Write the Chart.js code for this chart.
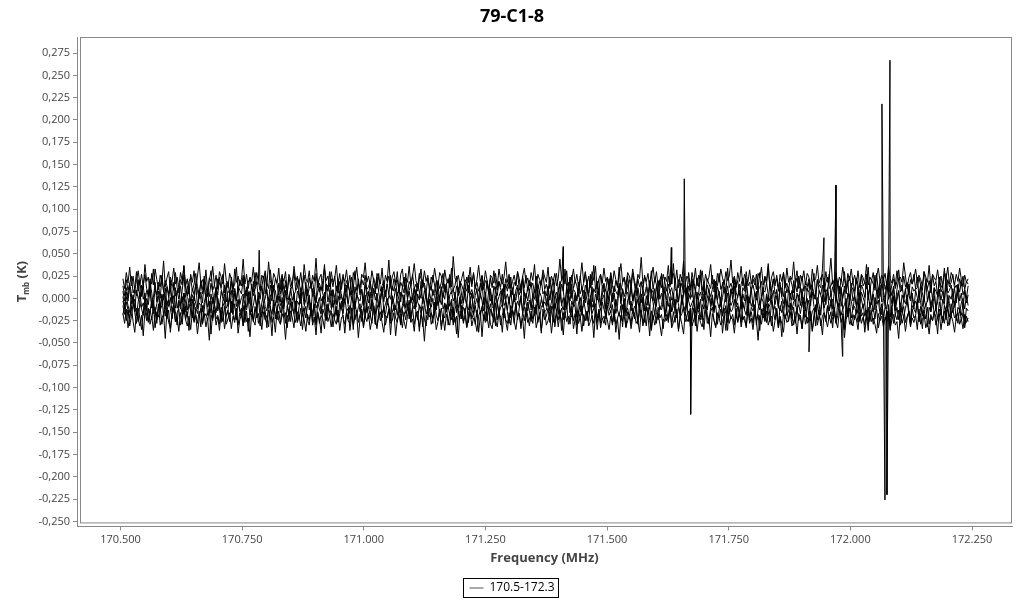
<!DOCTYPE html>
<html>
<head>
<meta charset="utf-8">
<title>79-C1-8</title>
<script src="https://cdn.jsdelivr.net/npm/chart.js@4.4.1/dist/chart.umd.min.js"></script>
<style>
  html, body { margin: 0; padding: 0; background: #fff; }
  #wrap { width: 1024px; height: 600px; }
</style>
</head>
<body>
<div id="wrap"><canvas id="spectrum" width="1024" height="600"></canvas></div>
<script>
// eight overlaid scans, values in mK, same channel grid
const scanA = [14,3,21,9,17,25,6,12,30,8,19,2,15,27,11,5,22,16,33,10,4,18,13,26,7,20,14,1,24,17,9,29,12,6,21,15,36,11,3,19,
  23,8,16,28,13,5,18,10,25,14,2,20,31,9,15,7,22,17,12,27,6,13,19,4,24,11,16,35,8,21,14,26,10,3,18,23,12,7,29,15,
  20,9,13,25,5,17,11,32,14,8,22,16,4,19,27,10,15,6,24,13,18,30,9,12,21,2,16,26,11,7,23,14,19,5,28,12,17,9,20,38,
  10,15,6,22,13,25,8,18,3,16,27,11,20,14,7,24,12,31,9,17,4,21,15,26,10,13,19,6,23,16,11,28,8,14,20,2,17,25,12,9,
  22,15,30,7,18,13,24,10,5,19,14,27,11,16,8,21,33,12,17,6,23,13,9,26,15,4,20,11,18,28,7,16,22,12,34,10,14,25,3,19,
  15,9,21,17,6,24,13,29,11,18,8,14,26,10,20,16,5,23,12,31,17,9,19,13,27,7,22,15,11,24,4,18,14,30,9,16,21,12,26,8,
  20,13,17,6,25,11,19,15,28,10,
  16,7,24,12,3,19,28,10,15,21,8,33,13,18,5,26,11,20,14,2,25,9,17,30,12,6,22,15,37,10,19,4,27,13,16,8,23,11,29,14,
  7,20,12,35,9,18,24,5,15,21,11,28,16,3,22,13,19,9,26,17,6,14,31,10,23,15,1,20,12,27,18,8,25,13,16,39,11,7,21,14,
  24,10,17,5,29,12,20,15,8,23,13,32,9,18,4,22,16,11,26,7,19,14,28,10,15,21,6,34,12,17,9,25,13,20,3,16,23,11,30,14,
  18,7,22,15,27,10,12,19,5,24,16,36,11,8,21,14,26,13,18,2,29,12,17,9,23,15,6,20,31,11,14,25,8,19,13,22,10,16,28,4,
  21,15,12,33,7,18,24,11,14,20,9,27,16,5,22,13,30,10,17,25,12,19,8,23,15,3,26,14,18,11,35,9,21,16,12,28,7,20,13,24,
  10,17,29,6,15,22,11,19,32,14,8,25,13,18,4,21,16,27,10,12,23,15,9,30,17,11,20,6,26,14,19,2,24,12,16,34,9,21,13,18,
  27,11,15,7,22,14,25,10,19,16];
const scanB = [8,-3,12,1,17,5,-6,10,3,21,-1,7,14,-4,9,2,19,6,-8,11,4,15,0,23,8,-2,13,5,10,-5,18,3,7,12,-7,9,26,1,14,6,
  -3,11,4,16,8,0,20,5,13,-1,9,2,17,7,-9,12,4,24,10,3,15,-4,8,6,19,1,11,-2,14,9,5,22,0,13,7,-6,16,3,10,18,
  -1,8,12,4,27,6,-3,15,2,11,9,-5,17,5,13,1,20,7,-2,10,14,4,8,25,0,12,6,-7,18,3,11,16,2,9,-4,21,7,13,5,-1,
  15,8,30,3,10,-6,14,6,19,2,-3,12,7,17,4,9,-8,13,1,22,6,10,-2,15,8,3,18,0,11,5,24,7,-5,12,9,2,16,4,-1,14,
  8,20,3,10,-4,13,6,28,1,9,15,-2,11,5,17,7,0,21,12,4,-6,10,14,3,8,19,6,-3,13,1,16,9,2,23,5,11,-1,14,7,18,
  3,-5,12,8,26,4,10,0,15,6,-2,17,9,13,1,20,5,11,-7,14,7,3,19,10,6,-1,16,8,22,2,12,-4,9,15,4,11,25,6,0,13,
  8,18,1,10,-3,14,7,21,5,9,
  3,14,-2,9,20,6,-5,11,1,16,8,-7,13,4,24,0,10,7,-3,18,5,12,-1,15,9,2,27,-4,11,6,19,3,-8,13,7,10,1,22,5,-2,
  14,8,4,17,-6,11,2,9,25,0,12,-3,7,15,5,-9,18,10,3,13,-1,20,6,9,-5,14,2,11,28,4,8,-2,16,7,12,0,23,5,-4,10,
  17,3,9,-7,14,6,1,19,11,-1,7,26,4,12,-3,15,8,2,10,21,0,13,6,-6,18,9,3,14,-2,11,5,24,7,1,16,-4,12,8,20,3,
  -5,10,15,6,2,13,29,-1,9,7,17,4,-3,11,22,5,8,-8,14,10,2,19,6,13,0,9,-2,16,7,25,11,3,-6,14,8,18,1,12,5,-1,
  21,9,4,15,-4,10,7,27,2,13,6,-3,17,8,11,0,14,5,20,-7,9,12,3,23,7,-2,15,10,1,18,4,13,-5,9,26,6,11,2,16,8,
  -1,19,5,12,3,14,-6,10,22,7,15,0,9,17,4,-3,13,8,11,24,2,16,6,-4,20,10,5,14,-1,12,8,3,18,7,13,-2,28,6,9,15,
  1,11,-5,16,7,19,4,10,0,14];
const scanC = [2,-9,7,-3,13,-6,4,-12,9,0,-5,15,-1,6,-14,3,10,-7,1,18,-4,8,-10,5,-2,12,-8,0,20,-6,3,-11,9,-1,14,-4,6,-15,2,11,
  -7,4,-3,16,-9,1,7,-5,22,-2,10,-13,5,-6,3,12,-1,-10,8,0,-4,17,-8,2,9,-12,6,-3,13,-7,1,5,-16,11,-2,8,-5,19,3,-9,
  7,-1,14,-6,0,10,-11,4,-3,15,-8,2,6,-4,24,-10,9,1,-7,12,-2,5,-13,8,3,-6,17,-1,10,-9,4,-15,11,0,-5,7,13,-3,2,-8,
  16,-4,6,-11,9,1,-7,21,-2,5,-10,12,3,-6,8,-1,14,-12,4,0,-3,10,-8,18,2,-5,7,-14,11,-2,6,-9,1,13,-4,9,-7,3,26,-6,
  0,11,-3,-12,7,4,-8,15,-1,8,-5,2,12,-10,5,-2,19,-6,9,1,-13,7,-4,10,3,-9,14,0,-7,6,-1,17,-11,4,8,-3,2,-16,12,5,
  -6,9,0,-8,15,-2,6,-12,3,11,-4,1,20,-7,7,-10,10,-3,4,-14,13,-5,2,8,-9,16,-1,5,-6,9,-11,3,-2,12,-5,0,23,-8,6,-3,
  10,-13,4,-1,14,-7,7,2,-10,8,
  -6,8,-2,14,-11,3,7,-4,19,-8,1,-13,10,4,-3,16,-9,6,-1,12,-15,2,9,-5,21,-7,0,13,-10,5,-2,11,-6,3,17,-12,8,-1,25,-4,
  6,-9,0,14,-3,10,-16,4,7,-7,18,-2,5,-11,12,1,-5,9,-14,3,-8,15,2,-3,11,-9,20,-1,6,-6,13,-12,4,8,-2,1,-17,10,-4,16,
  -7,3,12,-10,6,-1,22,-5,9,-13,2,7,-3,15,-8,0,11,-6,4,-11,19,-2,8,-9,1,13,-4,6,-15,10,-1,24,-7,3,9,-12,5,-3,17,-5,
  0,11,-10,7,-2,14,-8,2,12,-16,5,-4,18,-1,9,-7,3,-11,15,1,-6,8,-13,10,4,-2,20,-9,6,-3,13,-5,1,-14,11,7,-8,16,-1,4,
  -10,9,3,-4,23,-7,12,-2,5,-12,8,0,-6,14,-9,2,10,-15,6,-1,17,-3,4,-8,11,-11,7,1,-5,27,-2,13,-7,5,-13,9,0,15,-4,3,
  -9,19,-1,6,-6,12,-10,2,8,-16,4,-3,11,-7,16,-1,6,-12,9,1,-5,14,-9,3,21,-4,7,-8,0,12,-14,5,10,-2,8,-6,18,-10,3,-1,
  11,-7,2,15,-3,6,-11,9,-5,4];
const scanD = [-3,-12,2,-8,-16,4,-6,-1,-19,-4,7,-10,-5,-14,0,-7,10,-11,-2,-17,-6,3,-13,-8,5,-20,-3,-9,1,-15,-5,12,-11,-2,-7,-18,6,-4,-13,0,
  -9,-22,3,-6,-12,8,-1,-15,-5,4,-10,-3,-17,1,-8,9,-14,-6,-24,-2,5,-11,-7,0,-16,-4,11,-9,-1,-13,-19,2,-6,-10,7,-3,-15,-8,4,-12,
  -1,-21,-5,6,-9,-14,1,-7,14,-11,-4,-17,3,-8,-2,-12,8,-6,-18,0,-10,5,-15,-3,-7,2,-20,-9,-1,10,-13,-5,-26,4,-11,-6,1,-16,-3,7,
  -8,-14,-2,9,-10,-4,-19,3,-7,-12,0,-5,15,-9,-17,2,-6,-11,6,-3,-15,-8,1,-22,-4,8,-12,-1,-7,-18,5,-10,-3,12,-14,-6,0,-9,-20,3,
  -5,-13,7,-2,-16,-8,4,-11,-1,-23,2,-7,-12,10,-4,-9,-17,1,-6,6,-14,-3,-10,0,-19,5,-8,-2,13,-12,-6,-15,3,-9,-1,-21,7,-5,-11,2,
  -16,-4,9,-8,-13,-2,4,-18,-7,0,-10,6,-3,-14,1,-25,-5,8,-9,-12,3,-6,-17,-1,11,-8,-4,-13,2,-20,-7,5,-11,-3,-9,0,-16,7,-5,-14,
  -2,-10,4,-19,-6,9,-12,-1,-8,-4,
  -9,2,-14,-4,8,-11,-1,-18,5,-7,-13,0,-6,11,-16,-3,-9,4,-21,-5,1,-12,-8,7,-2,-15,3,-10,-4,-19,9,-6,-13,-1,4,-23,-7,2,-11,6,
  -3,-17,-8,13,-5,-12,0,-20,-2,3,-14,-6,7,-10,-1,-16,5,-4,-27,-8,1,-12,10,-5,-18,-2,3,-13,-7,8,-20,-3,-9,2,-15,6,-11,-1,-6,-22,
  4,-8,-14,12,-3,-10,-5,0,-17,7,-12,-1,-24,5,-7,-13,3,-9,-2,-16,9,-4,-11,1,-19,-6,6,-14,-1,-8,-3,14,-10,-5,-21,2,-7,-12,4,-15,
  0,-9,-2,-18,8,-6,-13,1,-4,-25,5,-11,-7,3,-16,-1,10,-9,-14,-3,-20,2,-6,-10,6,-13,-4,-1,-17,4,-8,11,-12,-5,0,-22,-3,7,-9,-15,
  1,-7,-19,4,-11,-2,8,-14,-6,-1,-16,3,-9,-4,13,-12,-7,0,-20,5,-3,-13,2,-8,-17,6,-1,-11,-5,-24,7,-10,-2,-15,1,-6,12,-9,-18,0,
  -4,-12,5,-21,-7,3,-14,-2,9,-10,-16,-1,-6,4,-13,-26,2,-8,-3,-11,8,-5,-18,0,-9,-2,6,-15,-7,3,-12,-4,10,-19,-1,-8,-14,4,-6,-22,
  1,-10,-3,7,-16,-5,0,-12,3,-8];
const scanE = [-8,-18,-4,-13,-22,-7,1,-15,-11,-26,-5,-12,-19,0,-9,-24,-14,-3,-17,-10,-28,-6,-13,3,-20,-8,-16,-2,-11,-23,-7,-15,-30,-4,-12,2,-18,-9,-21,-6,
  -14,-1,-25,-10,-17,-5,-8,-29,-13,4,-19,-11,-3,-22,-7,-16,0,-12,-27,-9,-4,-20,-14,6,-10,-18,-6,-24,-2,-15,-11,-31,-8,-13,-1,-19,-5,-26,-12,-16,
  3,-9,-21,-7,-14,-33,-4,-11,-18,-2,-23,-10,-6,-16,1,-13,-28,-8,-20,-5,-12,-17,-3,-25,-9,5,-15,-11,-22,-7,-1,-19,-14,-8,-30,-4,-12,-18,2,-10,
  -24,-6,-16,-13,-2,-21,-9,-27,-5,-11,-17,0,-14,-23,-8,-12,-35,-3,-19,-10,-6,-26,-13,4,-16,-9,-20,-4,-11,-29,-7,-15,-1,-22,-12,-18,-5,-10,-25,1,
  -14,-8,-19,-3,-28,-11,-6,-17,-13,-2,-21,-9,3,-15,-24,-7,-12,-32,-4,-18,-10,-1,-16,-22,-8,-13,2,-20,-11,-26,-5,-14,-9,-19,-3,-30,-12,-7,-17,0,
  -23,-10,-15,-6,-27,-2,-13,-18,-8,-21,-4,-16,-11,1,-25,-9,-14,-6,-20,-12,-31,-3,-17,-10,-7,-22,-1,-15,-28,-8,-13,-19,-5,-24,-11,3,-16,-9,-21,-4,
  -14,-26,-7,-12,-18,-2,-23,-10,-6,-15,
  -13,-3,-20,-9,-27,-6,-15,-1,-18,-11,-24,-7,-12,2,-16,-21,-5,-10,-30,-14,-8,-19,-2,-13,-25,-9,0,-17,-11,-6,-22,-14,-28,-4,-12,-19,3,-10,-16,-7,
  -26,-1,-13,-20,-8,-32,-5,-15,-11,-23,-3,-17,-9,-12,-29,-6,-21,1,-14,-10,-18,-7,-34,-11,-2,-16,-24,-9,-13,-4,-20,-12,-27,-5,-15,-8,-1,-22,-10,-17,
  4,-13,-19,-6,-26,-11,-14,-3,-31,-9,-16,-21,-7,-12,-2,-18,-25,-10,0,-14,-8,-29,-13,-5,-20,-11,-17,-36,-6,-15,-12,-1,-22,-9,-16,-27,-4,-13,-19,2,
  -24,-10,-14,-7,-30,-12,-3,-18,-11,-21,-6,-15,-26,-2,-13,-9,-20,-33,-8,-16,-11,1,-19,-14,-5,-23,-10,-28,-12,-7,-17,-4,-13,-21,-9,-2,-25,-15,-11,-31,
  -6,-18,-12,3,-16,-24,-8,-14,-1,-20,-10,-27,-5,-13,-19,-11,-35,-7,-15,-3,-22,-12,-9,-17,0,-26,-14,-6,-20,-13,-29,-4,-16,-11,-23,-8,-2,-18,-12,-25,
  -9,-15,-7,-30,-13,2,-19,-10,-24,-5,-14,-21,-11,-3,-17,-28,-8,-12,-16,-1,-26,-9,-20,-13,-6,-32,-10,-15,0,-18,-11,-23,-4,-14,-27,-8,-17,-12,-21,-6,
  -16,-3,-25,-10,-13,-19,-7,-29,-11,-14];
const scanF = [-18,-9,-25,-13,-31,-20,-6,-16,-28,-11,-22,-35,-14,-4,-19,-27,-12,-24,-8,-33,-15,-21,-10,-29,-17,-2,-23,-13,-38,-19,-7,-26,-16,-12,-30,-20,-9,-24,-15,-36,
  -11,-22,-5,-18,-28,-14,-32,-8,-21,-17,-25,-12,-40,-16,-6,-23,-19,-29,-10,-15,-34,-20,-13,-26,-3,-18,-24,-11,-30,-16,-21,-8,-27,-14,-37,-19,-12,-25,-9,-22,
  -17,-31,-15,-6,-23,-28,-13,-20,-42,-10,-18,-24,-14,-29,-7,-21,-16,-33,-12,-26,-4,-19,-27,-15,-22,-11,-35,-17,-9,-24,-30,-13,-20,-6,-28,-16,-23,-39,-12,-18,
  -25,-8,-21,-14,-32,-19,-10,-26,-17,-3,-22,-29,-15,-11,-36,-20,-7,-24,-13,-27,-18,-12,-31,-16,-5,-23,-19,-28,-9,-21,-34,-14,-25,-17,-10,-30,-20,-13,-41,-16,
  -8,-22,-27,-12,-19,-33,-15,-24,-6,-18,-26,-11,-29,-20,-14,-37,-17,-9,-23,-31,-13,-21,-16,-28,-4,-19,-25,-12,-35,-18,-22,-7,-30,-15,-24,-10,-27,-20,-44,-14,
  -17,-26,-11,-32,-19,-6,-23,-16,-29,-13,-38,-20,-9,-25,-15,-21,-33,-12,-18,-27,-5,-24,-14,-30,-19,-11,-26,-36,-16,-22,-13,-28,-8,-21,-17,-34,-15,-25,-10,-20,
  -31,-14,-23,-18,-7,-27,-16,-39,-12,-24,
  -20,-11,-27,-15,-8,-32,-18,-24,-13,-36,-16,-22,-6,-29,-19,-12,-25,-17,-40,-14,-23,-9,-31,-18,-15,-26,-4,-21,-28,-13,-35,-17,-11,-24,-20,-30,-8,-19,-14,-27,
  -12,-38,-22,-16,-25,-7,-20,-33,-15,-18,-29,-11,-23,-5,-26,-17,-13,-31,-21,-9,-19,-42,-14,-24,-16,-28,-10,-22,-18,-34,-13,-25,-20,-7,-30,-15,-27,-12,-37,-21,
  -17,-9,-26,-19,-14,-32,-23,-11,-28,-16,-4,-24,-18,-35,-13,-21,-29,-15,-10,-25,-31,-17,-22,-12,-39,-19,-8,-27,-14,-23,-18,-30,-11,-26,-16,-3,-24,-20,-33,-13,
  -21,-15,-28,-9,-25,-18,-36,-12,-22,-17,-27,-6,-19,-31,-14,-24,-11,-29,-20,-43,-15,-23,-13,-26,-8,-21,-30,-17,-12,-25,-19,-34,-16,-10,-28,-22,-14,-37,-18,-7,
  -24,-13,-31,-20,-16,-26,-9,-23,-15,-33,-12,-28,-19,-5,-25,-17,-35,-14,-21,-11,-30,-18,-24,-13,-27,-8,-20,-16,-38,-22,-10,-26,-15,-29,-19,-12,-33,-23,-6,-17,
  -25,-14,-21,-36,-11,-28,-18,-24,-13,-30,-16,-9,-27,-20,-15,-32,-12,-22,-19,-4,-26,-17,-34,-13,-23,-10,-29,-18,-25,-15,-21,-40,-12,-19,-27,-14,-24,-8,-30,-17,
  -13,-22,-18,-28,-11,-25,-16,-33,-20,-26];
const scanG = [22,11,29,17,35,14,25,8,20,31,16,27,12,38,19,24,6,28,15,33,21,10,26,18,42,13,23,30,9,19,34,16,24,12,29,20,37,14,22,5,
  27,18,31,11,25,40,17,21,13,32,8,23,19,36,15,26,10,30,24,16,39,20,12,28,22,7,33,18,25,14,21,44,16,27,11,24,19,35,13,29,
  18,9,26,22,31,15,41,20,12,28,23,17,34,10,25,19,30,6,27,21,14,36,20,24,16,29,12,38,22,18,31,11,26,19,45,15,23,27,8,33,
  20,25,13,30,18,22,37,16,28,10,24,19,32,14,26,4,29,21,35,17,12,27,23,40,18,25,15,31,20,9,28,22,16,34,11,26,19,43,14,24,
  30,17,21,8,27,33,13,23,18,36,15,25,39,20,12,28,22,16,31,19,26,7,24,18,34,21,14,29,25,11,32,20,17,27,13,47,23,19,26,15,
  22,30,10,24,18,35,16,28,12,21,37,19,25,14,31,20,9,26,23,17,28,13,33,21,16,24,41,18,27,11,19,26,15,30,22,6,25,34,17,23,
  14,29,20,38,12,27,21,16,32,24,18,35,11,25,19,28,14,22,44,20,26,16,31,9,24,21,33,17,27,13,23,40,18,29,15,25,12,30,20,36,
  10,22,27,17,34,19,24,8,28,16,31,21,14,26,39,18,23,15,29,25,17,33,20,12,27,22,46,16,24,19,28,11,25,35,18,30,13,21,26,7,
  24,19,37,15,23,28,17,32,12,27,20,42,16,25,21,9,29,18,34,14,26,22,31,13,27,19,24,38,16,21,11,28,18,33,23,15,30,20,25,43,
  17,24,12,29,19,36,14,27,22,18,32,16,26,21,10,28,23,35,15,25,20,39,13,24,30,17,22,8,27,19,29,14,34,18,25,21,41,16,23,12,
  26,20,31,15,28,24,11,33,19,22,37,17,23,27,13,30,18,25,45,16,21,29,14,24,19,35,22,10,28,20,33,18,26,16,31,12,27,23,17,38,
  15,24,20,29,9,25,34,19,26,21,28,13,36,22,17,27,14,31,20,24,18,40,25,11,23,29,16,22,33,19,26,21,14,30,24,18,37,13,27,23,
  20,32,17,25,12,28,22,35,16,29,24,15,27,19,34,21,13,26,18,22];
const scanH = [-17,-28,-12,-33,-21,-9,-26,-38,-15,-23,-31,-19,-42,-14,-25,-11,-29,-20,-36,-16,-24,-8,-30,-22,-18,-45,-13,-27,-33,-19,-12,-26,-21,-37,-16,-29,-6,-24,-31,-20,
  -35,-15,-27,-19,-40,-23,-11,-28,-17,-32,-22,-47,-18,-25,-13,-30,-21,-36,-14,-26,-9,-29,-23,-16,-34,-20,-27,-12,-39,-24,-18,-31,-14,-26,-22,-43,-17,-25,-30,-11,
  -28,-20,-35,-15,-24,-19,-32,-8,-27,-21,-38,-13,-25,-29,-17,-23,-46,-19,-26,-14,-22,-33,-10,-27,-20,-31,-16,-24,-37,-18,-25,-12,-30,-21,-41,-15,-28,-19,-23,-34,
  -7,-26,-20,-32,-17,-24,-29,-13,-36,-22,-19,-39,-16,-25,-28,-11,-30,-21,-18,-44,-23,-14,-33,-20,-26,-17,-35,-24,-9,-29,-31,-21,-15,-27,-38,-19,-22,-12,-28,-25,
  -16,-42,-24,-18,-30,-13,-26,-34,-20,-10,-27,-23,-37,-15,-21,-32,-18,-25,-48,-19,-24,-11,-29,-22,-17,-35,-26,-14,-31,-20,-36,-18,-25,-30,-12,-27,-21,-40,-16,-23,
  -8,-28,-19,-33,-24,-15,-31,-22,-26,-37,-20,-14,-43,-18,-27,-23,-11,-29,-34,-17,-25,-32,-16,-21,-38,-12,-24,-28,-19,-30,-13,-26,-35,-20,-17,-31,-22,-45,-15,-27,
  -23,-18,-28,-10,-33,-24,-19,-36,-21,-14,-30,-25,-16,-39,-22,-27,-13,-32,-18,-24,-41,-15,-26,-20,-29,-9,-34,-23,-17,-28,-21,-37,-18,-25,-14,-31,-26,-19,-44,-16,
  -27,-12,-33,-22,-28,-17,-24,-35,-20,-30,-15,-29,-23,-46,-19,-26,-11,-32,-25,-18,-34,-21,-16,-28,-24,-38,-14,-27,-20,-31,-10,-25,-36,-19,-30,-22,-17,-29,-42,-23,
  -26,-18,-24,-13,-33,-27,-21,-16,-35,-20,-29,-40,-15,-26,-22,-12,-31,-24,-18,-37,-19,-27,-32,-21,-8,-28,-23,-43,-17,-25,-33,-16,-22,-30,-26,-19,-36,-14,-28,-21,
  -24,-39,-18,-27,-13,-32,-20,-25,-31,-11,-28,-22,-35,-17,-24,-47,-19,-29,-16,-26,-14,-30,-23,-20,-37,-25,-12,-33,-21,-28,-38,-18,-27,-24,-15,-31,-26,-20,-40,-17,
  -22,-34,-13,-29,-21,-27,-18,-36,-24,-9,-30,-20,-25,-41,-16,-23,-32,-19,-28,-22,-17,-26,-33,-14,-27,-20,-44,-24,-12,-29,-25,-31,-19,-23,-35,-15,-28,-21,-30,-18,
  -36,-13,-26,-22,-29,-39,-17,-25,-20,-32,-21,-27,-11,-34,-24,-18,-30,-26,-45,-16,-28,-20,-37,-23,-14,-31,-22,-27,-19,-35,-12,-29,-24,-18,-33,-26,-40,-21,-25,-15,
  -30,-22,-17,-35,-20,-28,-13,-31,-24,-19,-26,-38,-21,-16,-29,-23,-34,-18,-27,-22];

// channel grid shared by all scans (MHz)
const freqStart = 170.505;
const freqEnd = 172.242;

// single-channel spikes: frequency (MHz), value (K), which scan
const spikeFreqs  = [170.785, 171.410, 171.632, 171.6587, 171.6718, 171.915, 171.9457, 171.9704, 171.9838, 172.0649, 172.0711, 172.0752, 172.0814];
const spikeValues = [0.054, 0.058, 0.057, 0.134, -0.130, -0.060, 0.068, 0.127, -0.065, 0.218, -0.226, -0.220, 0.267];
const spikeScan   = [0, 0, 0, 1, 4, 5, 0, 1, 5, 2, 5, 4, 3];

const legendLabel = '170.5-172.3';

const scans = [scanA, scanB, scanC, scanD, scanE, scanF, scanG, scanH];

function buildPoints(scan, idx) {
    const step = (freqEnd - freqStart) / (scan.length - 1);
    const pts = scan.map((mK, i) => ({ x: freqStart + i * step, y: mK / 1000 }));
    spikeFreqs.forEach((f, k) => {
        if (spikeScan[k] === idx) pts.push({ x: f, y: spikeValues[k] });
    });
    return pts.sort((a, b) => a.x - b.x);
}

const datasets = scans.map((scan, i) => ({
    label: legendLabel,
    data: buildPoints(scan, i),
    borderColor: '#000',
    backgroundColor: '#000',
    borderWidth: 1,
    pointRadius: 0,
    tension: 0,
    fill: false
}));

// grey frame around the plot, set slightly inside the axis lines
const frameBox = {
    id: 'frameBox',
    beforeDatasetsDraw(chart) {
        const { ctx, chartArea: a } = chart;
        ctx.save();
        ctx.strokeStyle = '#888';
        ctx.lineWidth = 1;
        ctx.strokeRect(a.left + 3.5, a.top + 0.5, a.right - a.left - 4, a.bottom - a.top - 4);
        ctx.restore();
    }
};

// y title with subscript + border around the legend
const extras = {
    id: 'extras',
    afterDraw(chart) {
        const { ctx, chartArea: a } = chart;
        ctx.save();
        ctx.fillStyle = '#444';
        ctx.textBaseline = 'middle';
        const big = 'bold 13px "Open Sans"';
        const small = 'bold 8px "Open Sans"';
        ctx.font = big;
        const wT = ctx.measureText('T').width;
        const wK = ctx.measureText(' (K)').width;
        ctx.font = small;
        const wS = ctx.measureText('mb').width;
        const total = wT + wS + wK;
        ctx.translate(22, (a.top + a.bottom) / 2);
        ctx.rotate(-Math.PI / 2);
        let x = -total / 2;
        ctx.font = big;
        ctx.fillText('T', x, 0);
        x += wT;
        ctx.font = small;
        ctx.fillText('mb', x, 5);
        x += wS;
        ctx.font = big;
        ctx.fillText(' (K)', x, 0);
        ctx.restore();

        const hb = chart.legend.legendHitBoxes[0];
        if (hb) {
            ctx.save();
            ctx.strokeStyle = '#000';
            ctx.lineWidth = 1;
            ctx.strokeRect(Math.round(hb.left) - 5.5, Math.round(hb.top) - 3.5, Math.round(hb.width) + 10, Math.round(hb.height) + 7);
            ctx.restore();
        }
    }
};

const ctx = document.getElementById('spectrum').getContext('2d');
const chart = new Chart(ctx, {
    type: 'line',
    data: { datasets },
    plugins: [frameBox, extras],
    options: {
        responsive: false,
        animation: false,
        events: [],
        layout: { padding: { left: 12, right: 12, top: 0, bottom: -4 } },
        plugins: {
            title: {
                display: true,
                text: '79-C1-8',
                color: '#000',
                font: { family: 'Open Sans', size: 18, weight: 'bold' },
                padding: { top: 6, bottom: 9.4 }
            },
            legend: {
                display: true,
                position: 'bottom',
                labels: {
                    color: '#333',
                    font: { family: 'Open Sans', size: 12 },
                    padding: 10,
                    usePointStyle: true,
                    pointStyleWidth: 14,
                    generateLabels: () => [{
                        text: legendLabel,
                        strokeStyle: '#555',
                        fillStyle: '#555',
                        lineWidth: 1,
                        pointStyle: 'line',
                        datasetIndex: 0
                    }]
                }
            },
            tooltip: { enabled: false }
        },
        scales: {
            x: {
                type: 'linear',
                min: 170.4106,
                max: 172.3322,
                afterFit: (scale) => { scale.height = 45.6; },
                border: { display: true, color: '#888' },
                grid: { drawOnChartArea: false, drawTicks: true, tickLength: 4, color: '#888' },
                ticks: {
                    stepSize: 0.25,
                    includeBounds: false,
                    autoSkip: false,
                    maxRotation: 0,
                    padding: 3,
                    color: '#444',
                    font: { family: 'Open Sans', size: 11 },
                    callback: (v) => v.toFixed(3)
                },
                title: {
                    display: true,
                    text: 'Frequency (MHz)',
                    color: '#444',
                    font: { family: 'Open Sans', size: 13, weight: 'bold' },
                    padding: { top: 0, bottom: 6 }
                }
            },
            y: {
                min: -0.2556,
                max: 0.2930,
                afterFit: (scale) => { scale.width = 65; },
                border: { display: true, color: '#888' },
                grid: { drawOnChartArea: false, drawTicks: true, tickLength: 4, color: '#888' },
                ticks: {
                    stepSize: 0.025,
                    includeBounds: false,
                    autoSkip: false,
                    padding: 3,
                    color: '#444',
                    font: { family: 'Open Sans', size: 11 },
                    callback: (v) => (Math.abs(v) < 1e-9 ? 0 : v).toFixed(3).replace('.', ',')
                }
            }
        }
    }
});
</script>
</body>
</html>
